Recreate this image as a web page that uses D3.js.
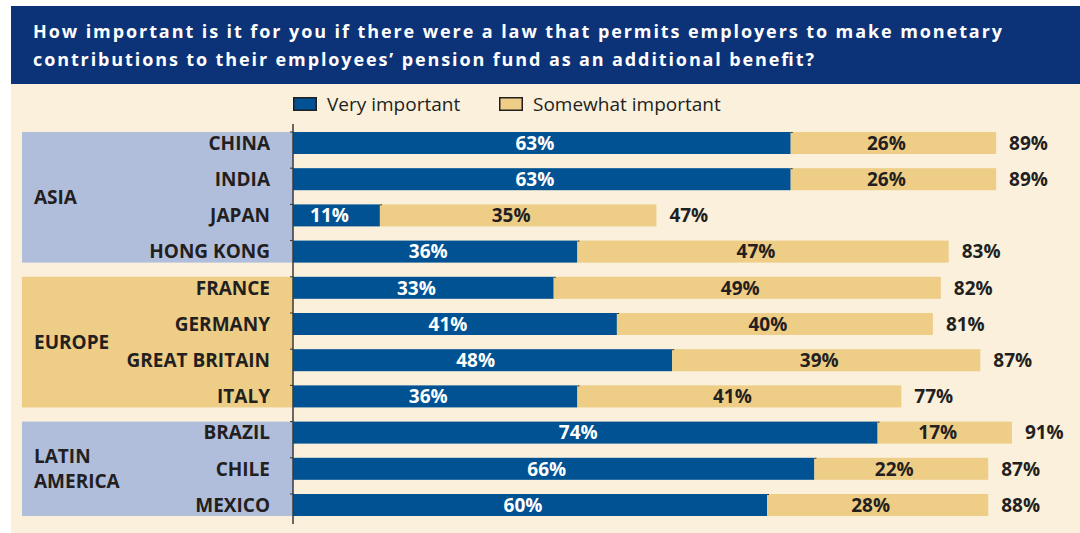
<!DOCTYPE html>
<html>
<head>
<meta charset="utf-8">
<script src="https://cdn.jsdelivr.net/npm/d3@7"></script>
<style>
  html, body { margin: 0; padding: 0; background: #ffffff; }
  svg { display: block; }
  text { font-family: "Open Sans", "Noto Sans", sans-serif; }
</style>
</head>
<body>
<svg id="chart" width="1080" height="533"></svg>
<script>
const titleLines = [
  "How important is it for you if there were a law that permits employers to make monetary",
  "contributions to their employees\u2019 pension fund as an additional benefit?"
];
const seriesNames = ["Very important", "Somewhat important"];
const countries = ["CHINA", "INDIA", "JAPAN", "HONG KONG", "FRANCE", "GERMANY", "GREAT BRITAIN", "ITALY", "BRAZIL", "CHILE", "MEXICO"];
const veryImportant = [63, 63, 11, 36, 33, 41, 48, 36, 74, 66, 60];
const somewhatImportant = [26, 26, 35, 47, 49, 40, 39, 41, 17, 22, 28];
const totals = [89, 89, 47, 83, 82, 81, 87, 77, 91, 87, 88];
const regions = [
  { name: ["ASIA"], first: "CHINA", last: "HONG KONG" },
  { name: ["EUROPE"], first: "FRANCE", last: "ITALY" },
  { name: ["LATIN", "AMERICA"], first: "BRAZIL", last: "MEXICO" }
];

const C = {
  navy: "#0c3278", blue: "#005293", yellow: "#eecd86", beige: "#faf0dc",
  regionBlue: "#b0bedc", text: "#231f20"
};
const regionFill = [C.regionBlue, C.yellow, C.regionBlue];
const FS = 19;

const svg = d3.select("#chart");

// panels
svg.append("rect").attr("x", 11).attr("y", 84).attr("width", 1069).attr("height", 449).attr("fill", C.beige);
svg.append("rect").attr("x", 11).attr("y", 6).attr("width", 1069).attr("height", 78).attr("fill", C.navy);

// title
const titleWidths = [969, 781];
titleLines.forEach((t, i) => {
  svg.append("text")
    .attr("x", 33).attr("y", 38 + i * 27.5)
    .attr("fill", "#ffffff")
    .attr("font-size", 18).attr("font-weight", 700)
    .attr("textLength", titleWidths[i]).attr("lengthAdjust", "spacing")
    .text(t);
});

// scales
const x = d3.scaleLinear().domain([0, 100]).range([293, 1083]);
const y = d3.scaleBand().domain(countries).range([125, 523]).paddingInner(0.392).paddingOuter(0.193);

// region boxes
regions.forEach((r, i) => {
  const top = y(r.first), bottom = y(r.last) + y.bandwidth();
  svg.append("rect").attr("x", 22).attr("y", top).attr("width", x(0) - 22).attr("height", bottom - top)
    .attr("fill", regionFill[i]);
  const cy = (top + bottom) / 2;
  const n = r.name.length;
  r.name.forEach((line, j) => {
    svg.append("text")
      .attr("x", 34).attr("y", cy + (j - (n - 1) / 2) * 25)
      .attr("dy", "0.36em")
      .attr("fill", C.text).attr("font-size", FS).attr("font-weight", 700)
      .text(line);
  });
});

// country labels
svg.append("g").selectAll("text").data(countries).join("text")
  .attr("x", 270).attr("y", d => y(d) + y.bandwidth() / 2).attr("dy", "0.36em")
  .attr("text-anchor", "end").attr("fill", C.text)
  .attr("font-size", FS).attr("font-weight", 700)
  .text(d => d);

// data rows
const rows = countries.map((c, i) => ({ c, v: veryImportant[i], s: somewhatImportant[i], t: totals[i] }));

const g = svg.append("g");
g.selectAll("rect.v").data(rows).join("rect").attr("class", "v")
  .attr("x", x(0)).attr("y", d => y(d.c)).attr("height", y.bandwidth())
  .attr("width", d => x(d.v) - x(0)).attr("fill", C.blue);
g.selectAll("rect.s").data(rows).join("rect").attr("class", "s")
  .attr("x", d => x(d.v)).attr("y", d => y(d.c)).attr("height", y.bandwidth())
  .attr("width", d => x(d.v + d.s) - x(d.v)).attr("fill", C.yellow);
// small notch at segment boundary
g.selectAll("line.n").data(rows).join("line").attr("class", "n")
  .attr("x1", d => x(d.v)).attr("x2", d => x(d.v) + 2)
  .attr("y1", d => y(d.c) + 0.5).attr("y2", d => y(d.c) + 0.5)
  .attr("stroke", "#333").attr("stroke-width", 1);

g.selectAll("text.vl").data(rows).join("text").attr("class", "vl")
  .attr("x", d => (x(0) + x(d.v)) / 2 - 7).attr("y", d => y(d.c) + y.bandwidth() / 2).attr("dy", "0.36em")
  .attr("text-anchor", "middle").attr("fill", "#ffffff")
  .attr("font-size", FS).attr("font-weight", 700)
  .text(d => d.v + "%");
g.selectAll("text.sl").data(rows).join("text").attr("class", "sl")
  .attr("x", d => (x(d.v) + x(d.v + d.s)) / 2 - 7).attr("y", d => y(d.c) + y.bandwidth() / 2).attr("dy", "0.36em")
  .attr("text-anchor", "middle").attr("fill", C.text)
  .attr("font-size", FS).attr("font-weight", 700)
  .text(d => d.s + "%");
g.selectAll("text.tl").data(rows).join("text").attr("class", "tl")
  .attr("x", d => x(d.v + d.s) + 13).attr("y", d => y(d.c) + y.bandwidth() / 2).attr("dy", "0.36em")
  .attr("text-anchor", "start").attr("fill", C.text)
  .attr("font-size", FS).attr("font-weight", 700)
  .text(d => d.t + "%");

// axis
const axis = d3.axisLeft(y).tickSize(3).tickFormat("");
const ag = svg.append("g").attr("transform", `translate(${x(0)},0)`).call(axis);
ag.select(".domain").remove();
ag.selectAll(".tick line").attr("stroke", "#333").attr("transform", `translate(0,${-y.bandwidth() / 2})`);
svg.append("line").attr("x1", x(0)).attr("x2", x(0)).attr("y1", 124).attr("y2", 524)
  .attr("stroke", "#3a3a3a").attr("stroke-width", 1.5);

// legend
const legendX = [293, 499];
const legendFill = [C.blue, C.yellow];
seriesNames.forEach((s, i) => {
  svg.append("rect").attr("x", legendX[i] + 0.75).attr("y", 97.75).attr("width", 22.5).attr("height", 12.5)
    .attr("fill", legendFill[i]).attr("stroke", "#231f20").attr("stroke-width", 1.5);
  svg.append("text").attr("x", legendX[i] + 34).attr("y", 104).attr("dy", "0.36em")
    .attr("fill", C.text).attr("font-size", FS).attr("font-weight", 400)
    .text(s);
});
</script>
</body>
</html>
